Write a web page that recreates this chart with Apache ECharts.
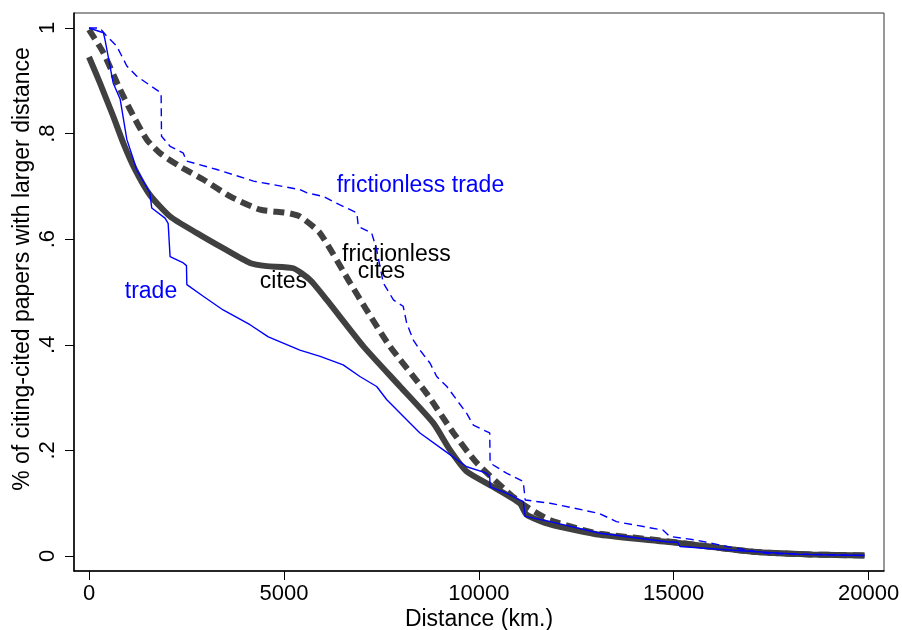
<!DOCTYPE html>
<html>
<head>
<meta charset="utf-8">
<script src="https://cdn.jsdelivr.net/npm/echarts@6/dist/echarts.min.js"></script>
<style>html,body{margin:0;padding:0;background:#fff;}#c{width:902px;height:630px;}</style>
</head>
<body>
<div id="c"></div>
<script>
// ---- data ----
const citesX = [0, 280, 620, 880, 1180, 1560, 2080, 2760, 3440, 4130, 4560, 5240, 5670, 6100, 7040, 7980, 8830, 9260, 9690, 10370, 11050, 11230, 11830, 13110, 14820, 15670, 17040, 18500, 19900];
const citesY = [.945, .896, .833, .782, .732, .684, .643, .612, .583, .555, .549, .545, .523, .485, .397, .321, .252, .201, .160, .131, .100, .078, .060, .040, .027, .020, .008, .003, .001];

const fcitesX = [0, 370, 800, 1140, 1480, 1820, 2330, 2930, 3620, 4390, 5070, 5410, 5920, 6700, 7120, 7720, 8660, 9350, 9950, 10880, 11230, 11830, 12680, 13110, 14820, 15670, 17040, 18500, 19900];
const fcitesY = [.997, .953, .883, .833, .789, .763, .738, .713, .681, .656, .650, .643, .612, .517, .466, .397, .308, .233, .176, .112, .093, .068, .049, .042, .028, .020, .008, .003, .001];

const tradeX = [0, 370, 410, 620, 800, 970, 1140, 1220, 1560, 1600, 1610, 1950, 2030, 2040, 2070, 2080, 2420, 2500, 2510, 2930, 3440, 4130, 4600, 5410, 5930, 6520, 6950, 7380, 7640, 8150, 8490, 9090, 9690, 10200, 10280, 10290, 10710, 11140, 11180, 11190, 11830, 13110, 14820, 15100, 15160, 16530, 18240, 19900];
const tradeY = [1.0, .991, .978, .896, .865, .789, .751, .732, .688, .688, .659, .640, .630, .618, .618, .567, .555, .550, .514, .492, .466, .438, .415, .390, .378, .362, .340, .321, .296, .258, .233, .201, .169, .157, .150, .131, .119, .103, .103, .075, .065, .043, .027, .026, .018, .011, .003, .001];

const ftradeX = [0, 280, 450, 710, 970, 1220, 1650, 1850, 1860, 2080, 2420, 2500, 3280, 4220, 5410, 5580, 6010, 6440, 6870, 6910, 7250, 7380, 7550, 7810, 8060, 8150, 8320, 8490, 8750, 8920, 9180, 9690, 9860, 10280, 10290, 10710, 11140, 11180, 11190, 11830, 12680, 13110, 13530, 14730, 14900, 15590, 16360, 17380, 19900];
const ftradeY = [1.0, 1.0, .985, .966, .928, .909, .887, .877, .795, .776, .763, .748, .732, .710, .694, .688, .681, .665, .650, .624, .612, .580, .517, .485, .473, .441, .409, .390, .365, .340, .321, .270, .248, .233, .176, .157, .141, .141, .106, .100, .087, .080, .065, .049, .037, .030, .018, .005, .001];

const xTicks = [0, 5000, 10000, 15000, 20000];
const yTicks = [0, 0.2, 0.4, 0.6, 0.8, 1];
const yTickLabels = ['0', '.2', '.4', '.6', '.8', '1'];

const labelText = ['frictionless trade', 'frictionless', 'cites', 'cites', 'trade'];
const labelX = [8503, 7887, 7503, 4989, 1590];
const labelY = [0.701, 0.571, 0.538, 0.519, 0.500];
const labelColor = ['#0000ff', '#000000', '#000000', '#000000', '#0000ff'];

const zip = (xs, ys) => xs.map((x, i) => [x, ys[i]]);

const FONT = 'Liberation Sans, Arial, sans-serif';
const chart = echarts.init(document.getElementById('c'), null, {renderer: 'canvas'});
chart.setOption({
  animation: false,
  backgroundColor: '#fff',
  grid: {left: 74, top: 13, width: 810, height: 558, show: true, borderColor: '#333', borderWidth: 1,
         containLabel: false, outerBoundsMode: 'none'},
  xAxis: {
    type: 'value', min: -385, max: 20395,
    name: 'Distance (km.)', nameLocation: 'middle', nameGap: 37, nameMoveOverlap: false,
    nameTextStyle: {fontFamily: FONT, fontSize: 23, color: '#000'},
    axisLine: {show: true, onZero: false, lineStyle: {color: '#000', width: 1.5}},
    axisTick: {show: true, customValues: xTicks, length: 9, lineStyle: {color: '#000', width: 1}},
    axisLabel: {customValues: xTicks, fontFamily: FONT, fontSize: 22, color: '#000', margin: 12, formatter: v => String(v)},
    splitLine: {show: false}
  },
  yAxis: {
    type: 'value', min: -0.0284, max: 1.0284,
    name: '% of citing-cited papers with larger distance', nameLocation: 'middle', nameGap: 40, nameRotate: 90,
    nameMoveOverlap: false,
    nameTextStyle: {fontFamily: FONT, fontSize: 23, color: '#000', padding: [0, 0, 0, 46]},
    axisLine: {show: true, onZero: false, lineStyle: {color: '#000', width: 1.5}},
    axisTick: {show: true, customValues: yTicks, length: 9, lineStyle: {color: '#000', width: 1}},
    axisLabel: {customValues: yTicks, rotate: 90, fontFamily: FONT, fontSize: 22, color: '#000', margin: 15,
      formatter: v => { const i = yTicks.findIndex(t => Math.abs(t - v) < 1e-6); return i >= 0 ? yTickLabels[i] : ''; }},
    splitLine: {show: false}
  },
  series: [
    {type: 'line', name: 'cites', data: zip(citesX, citesY), showSymbol: false, smooth: 0.2,
     lineStyle: {color: '#404040', width: 6}},
    {type: 'line', name: 'frictionless cites', data: zip(fcitesX, fcitesY), showSymbol: false, smooth: 0.2,
     lineStyle: {color: '#404040', width: 6, type: [11, 6]}},
    {type: 'line', name: 'trade', data: zip(tradeX, tradeY), showSymbol: false,
     lineStyle: {color: '#0000ff', width: 1.4}},
    {type: 'line', name: 'frictionless trade', data: zip(ftradeX, ftradeY), showSymbol: false,
     lineStyle: {color: '#0000ff', width: 1.4, type: [8, 5]}},
    {type: 'scatter', symbolSize: 0, silent: true, itemStyle: {color: '#000', opacity: 1},
     data: labelText.map((t, i) => ({value: [labelX[i], labelY[i]],
       label: {show: true, position: 'inside', formatter: t, color: labelColor[i], fontFamily: FONT, fontSize: 23, opacity: 1,
               textBorderWidth: 0, textBorderColor: 'transparent', align: 'center', verticalAlign: 'middle'}}))}
  ]
});
</script>
</body>
</html>
